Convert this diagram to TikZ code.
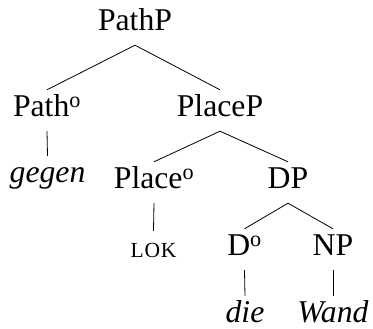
\documentclass[tikz,border=0pt]{standalone}
\usepackage{fontspec}
\setmainfont{Liberation Serif}
\begin{document}
\begin{tikzpicture}[x=1pt,y=-1pt,
  lab/.style={anchor=base, inner sep=0pt, text height=27pt, text depth=14pt,
    font=\fontsize{31.7}{36}\selectfont},
  edge/.style={line width=0.8pt}]
\useasboundingbox (0,0) rectangle (373,329);
\node[lab] (pathp)  at (135,31)  {PathP};
\node[lab] (pathh)  at (47,117)  {Path\textsuperscript{o}};
\node[lab] (placep) at (220,117) {PlaceP};
\node[lab] (gegen)  at (47.5,183) {\itshape gegen};
\node[lab] (placeh) at (154,189) {Place\textsuperscript{o}};
\node[lab] (dp)     at (288,189) {DP};
\node[lab] (lok)    at (153.5,258) {\fontsize{21.5}{24}\selectfont\addfontfeature{LetterSpace=4}LOK};
\node[lab] (dh)     at (244.5,256) {D\textsuperscript{o}};
\node[lab] (np)     at (333,256) {NP};
\node[lab] (die)    at (245,323) {\itshape die};
\node[lab] (wand)   at (333,323) {\itshape Wand};
\draw[edge] (pathp.south) -- (pathh.north);
\draw[edge] (pathp.south) -- (placep.north);
\draw[edge] (pathh.south) -- (gegen.north);
\draw[edge] (placep.south) -- (placeh.north);
\draw[edge] (placep.south) -- (dp.north);
\draw[edge] (placeh.south) -- (lok.north);
\draw[edge] (dp.south) -- (dh.north);
\draw[edge] (dp.south) -- (np.north);
\draw[edge] (dh.south) -- (die.north);
\draw[edge] (np.south) -- (wand.north);
\end{tikzpicture}
\end{document}
